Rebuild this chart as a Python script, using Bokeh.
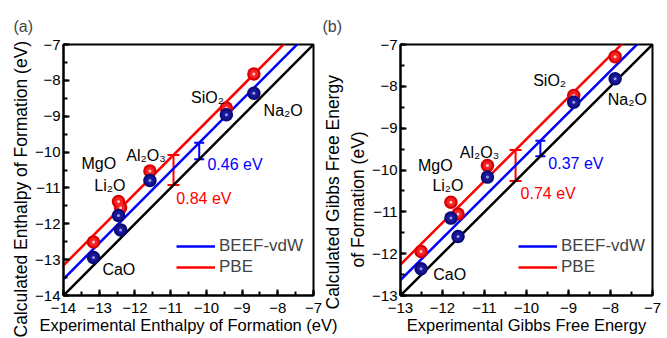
from bokeh.plotting import figure
from bokeh.models import (ColumnDataSource, Whisker, TeeHead, Label, Legend,
                          LegendItem, SingleIntervalTicker, Range1d, Title)
from bokeh.layouts import row
from bokeh.embed import file_html
from bokeh.resources import INLINE

FONT = "Liberation Sans"
RED = "#ff0000"
BLUE = "#0000ff"

compounds = ["CaO", "MgO", "Li₂O", "Al₂O₃", "SiO₂", "Na₂O"]

# (a) enthalpy of formation per O2 (eV)
h_axis = [-14, -7]
h_exp = [-13.16, -12.46, -12.40, -11.58, -9.44, -8.67]
h_pbe = [-12.51, -11.38, -11.55, -10.53, -8.77, -7.82]
h_beef = [-12.94, -11.77, -12.17, -10.79, -8.96, -8.36]
h_mae_pbe = 0.84
h_mae_beef = 0.46
h_bar_x_pbe = -10.92
h_bar_x_beef = -10.20

# (b) Gibbs free energy of formation per O2 (eV)
g_axis = [-13, -7]
g_exp = [-12.51, -11.80, -11.63, -10.93, -8.875, -7.89]
g_pbe = [-11.95, -10.77, -11.05, -9.89, -8.22, -7.29]
g_beef = [-12.36, -11.15, -11.59, -10.17, -8.38, -7.82]
g_mae_pbe = 0.74
g_mae_beef = 0.37
g_bar_x_pbe = -10.26
g_bar_x_beef = -9.67

# text placement (data coordinates) for compound names
h_name_pos = [(-12.45, -13.27), (-13.01, -10.32), (-12.70, -10.93),
              (-11.69, -10.10), (-9.97, -8.48), (-7.85, -8.84)]
g_name_pos = [(-11.83, -12.50), (-12.17, -9.89), (-11.87, -10.37),
              (-11.12, -9.57), (-9.45, -7.86), (-7.60, -8.32)]
h_mae_pos = {"beef": (-9.97, -10.35), "pbe": (-10.84, -11.29)}
g_mae_pos = {"beef": (-9.48, -9.84), "pbe": (-10.14, -10.57)}


def balls(p, xs, ys, base, mid, spec):
    src = ColumnDataSource(dict(x=xs, y=ys))
    p.scatter("x", "y", source=src, marker="circle", size=13.5,
              fill_color=base, line_color=None)
    p.scatter("x", "y", source=src, marker="circle", size=9,
              fill_color=mid, line_color=None, fill_alpha=0.8)
    p.scatter("x", "y", source=src, marker="circle", size=3,
              fill_color=spec, line_color=None, fill_alpha=0.75)


def error_bar(p, x, size, color, cap):
    src = ColumnDataSource(dict(base=[x], lower=[x], upper=[x + size]))
    w = Whisker(source=src, base="base", lower="lower", upper="upper",
                dimension="height", line_color=color, line_width=2,
                upper_head=TeeHead(size=cap, line_color=color, line_width=2),
                lower_head=TeeHead(size=cap, line_color=color, line_width=2))
    p.add_layout(w)


def side_title(p, text, offset, standoff):
    # vertical axis title as a left-side title, starting `offset` px
    # above the bottom of the frame (negative: below it)
    t = Title(text=text, align="left", offset=offset, standoff=standoff,
              text_font=FONT, text_font_size="17.5px",
              text_font_style="normal", text_color="black")
    p.add_layout(t, "left")


def panel(tag, tag_offset, axis, exp, pbe, beef, mae_pbe, mae_beef,
          bar_pbe, bar_beef, name_pos, mae_pos, xtitle,
          width, left, right, legend_loc):
    p = figure(width=width, height=338, output_backend="svg",
               toolbar_location=None,
               x_range=Range1d(axis[0], axis[1]),
               y_range=Range1d(axis[0], axis[1]),
               min_border_left=left, min_border_right=right,
               min_border_top=44, min_border_bottom=43,
               title=tag)
    p.title.align = "left"
    p.title.offset = tag_offset
    p.title.text_font = FONT
    p.title.text_font_size = "16px"
    p.title.text_font_style = "normal"
    p.title.standoff = 19

    p.grid.visible = False
    p.outline_line_color = "black"
    p.outline_line_width = 2
    p.outline_line_alpha = 1

    for ax in (p.xaxis[0], p.yaxis[0]):
        ax.ticker = SingleIntervalTicker(interval=1, num_minor_ticks=2)
        ax.axis_line_width = 2
        ax.major_tick_in = 6
        ax.major_tick_out = 0
        ax.minor_tick_in = 4
        ax.minor_tick_out = 0
        ax.major_tick_line_width = 2
        ax.minor_tick_line_width = 2
        ax.major_label_text_font = FONT
        ax.major_label_text_font_size = "15px"
        ax.major_label_text_color = "black"
        ax.major_label_standoff = 3
        ax.axis_label_text_font = FONT
        ax.axis_label_text_font_style = "normal"
        ax.axis_label_text_color = "black"
    p.xaxis.major_label_standoff = 7
    p.xaxis.axis_label = xtitle
    p.xaxis.axis_label_text_font_size = "16.5px"
    p.xaxis.axis_label_standoff = 0

    diag = list(axis)
    p.line(diag, diag, line_color="black", line_width=2.5)
    beef_line = p.line(diag, [v + mae_beef for v in diag],
                       line_color=BLUE, line_width=2.5)
    pbe_line = p.line(diag, [v + mae_pbe for v in diag],
                      line_color=RED, line_width=2.5)

    error_bar(p, bar_pbe, mae_pbe, RED, 12)
    error_bar(p, bar_beef, mae_beef, BLUE, 10)

    balls(p, exp, pbe, "#d80000", "#ff2a2a", "#ffffff")
    balls(p, exp, beef, "#0c0c78", "#1c1ca0", "#c8c8ff")

    for name, (lx, ly) in zip(compounds, name_pos):
        p.add_layout(Label(x=lx, y=ly, text=name, text_align="center",
                           text_baseline="middle", text_font=FONT,
                           text_font_size="16px", text_color="black"))
    bx, by = mae_pos["beef"]
    p.add_layout(Label(x=bx, y=by, text=f"{mae_beef:.2f} eV",
                       text_align="left", text_baseline="middle",
                       text_font=FONT, text_font_size="16px",
                       text_color=BLUE))
    rx, ry = mae_pos["pbe"]
    p.add_layout(Label(x=rx, y=ry, text=f"{mae_pbe:.2f} eV",
                       text_align="left", text_baseline="middle",
                       text_font=FONT, text_font_size="16px",
                       text_color=RED))

    legend = Legend(items=[LegendItem(label="BEEF-vdW", renderers=[beef_line]),
                           LegendItem(label="PBE", renderers=[pbe_line])],
                    location=legend_loc, margin=0, padding=0, spacing=1,
                    glyph_width=39, glyph_height=20, label_height=20,
                    label_standoff=4, label_text_font=FONT,
                    label_text_font_size="17px", border_line_color=None,
                    background_fill_alpha=0)
    p.add_layout(legend)
    return p


pa = panel("(a)", -50, h_axis, h_exp, h_pbe, h_beef, h_mae_pbe, h_mae_beef,
           h_bar_x_pbe, h_bar_x_beef, h_name_pos, h_mae_pos,
           "Experimental Enthalpy of Formation (eV)",
           340, 63, 27, (113, 18))
side_title(pa, "Calculated Enthalpy of Formation (eV)", -42, 3)

pb = panel("(b)", -78, g_axis, g_exp, g_pbe, g_beef, g_mae_pbe, g_mae_beef,
           g_bar_x_pbe, g_bar_x_beef, g_name_pos, g_mae_pos,
           "Experimental Gibbs Free Energy",
           349, 82, 15, (118, 18))
side_title(pb, "of Formation (eV)", 28, 4)
side_title(pb, "Calculated Gibbs Free Energy", -14, 1)
pb.border_fill_alpha = 0
pb.margin = (0, 0, 0, -22)

layout = row(pa, pb)
open("out.html", "w").write(file_html(layout, INLINE))
